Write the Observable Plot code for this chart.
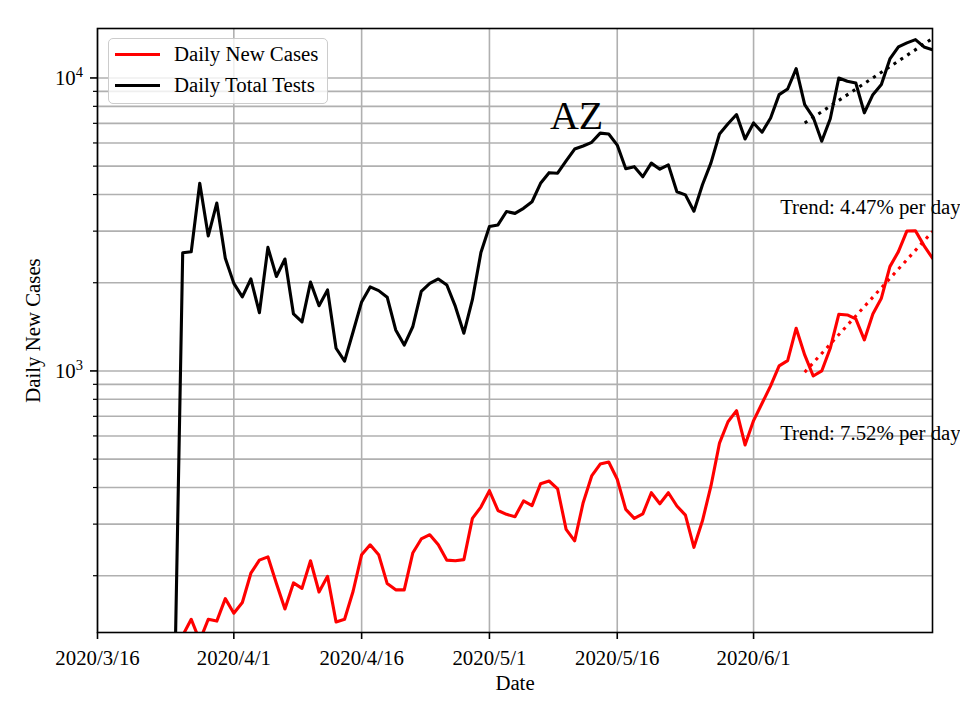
<!DOCTYPE html>
<html>
<head>
<meta charset="utf-8">
<script src="https://cdn.jsdelivr.net/npm/d3@7"></script>
<script src="https://cdn.jsdelivr.net/npm/@observablehq/plot@0.6"></script>
<style>
  body { margin: 0; background: #fff; }
  #wrap { position: relative; width: 960px; height: 720px; }
  #legend {
    position: absolute; left: 108px; top: 38px; width: 220px; height: 66px;
    box-sizing: border-box; border: 1.2px solid #cccccc; border-radius: 5px;
    background: rgba(255,255,255,0.8);
    font-family: 'Liberation Serif', 'Times New Roman', serif; font-size: 20.8px; color: #000;
  }
  .sw { position: absolute; left: 6px; width: 45px; height: 3px; }
  .lt { position: absolute; left: 65px; line-height: 1; white-space: nowrap; }
</style>
</head>
<body>
<div id="wrap">
  <div id="legend">
    <div class="sw" style="top:13.5px;background:#ff0000"></div>
    <div class="lt" style="top:4.5px">Daily New Cases</div>
    <div class="sw" style="top:44.5px;background:#000000"></div>
    <div class="lt" style="top:35.5px">Daily Total Tests</div>
  </div>
</div>
<script>
// ---- data ----
const xDomain = ["2020-03-16", "2020-06-22"];
const xTickDates = ["2020-03-16", "2020-04-01", "2020-04-16", "2020-05-01", "2020-05-16", "2020-06-01"];
const xTickLabels = ["2020/3/16", "2020/4/1", "2020/4/16", "2020/5/1", "2020/5/16", "2020/6/1"];
const yDomain = [128, 14750];
const yMajorTicks = [1000, 10000];
const yMinorTicks = [200, 300, 400, 500, 600, 700, 800, 900, 2000, 3000, 4000, 5000, 6000, 7000, 8000, 9000];

const testsFirstDay = "2020-03-25";
const testsValues = [
  70, 2530, 2550, 4370, 2890, 3740, 2425, 1990, 1790, 2060,
  1580, 2640, 2100, 2410, 1565, 1470, 2010, 1670, 1890, 1195,
  1080, 1360, 1720, 1935, 1880, 1785, 1380, 1225, 1415, 1870,
  1990, 2060, 1965, 1660, 1345, 1750, 2535, 3110, 3150, 3500,
  3450, 3590, 3780, 4370, 4750, 4730, 5210, 5720, 5860, 6030,
  6480, 6440, 5900, 4900, 4980, 4600, 5120, 4880, 5050, 4090,
  3990, 3510, 4320, 5130, 6440, 6980, 7500, 6190, 7020, 6530,
  7300, 8770, 9170, 10760, 8110, 7340, 6080, 7260, 10000, 9740,
  9610, 7600, 8770, 9490, 11610, 12760, 13170, 13510, 12760, 12490
];

const casesFirstDay = "2020-03-26";
const casesValues = [
  125, 142, 120, 142, 140, 167, 149, 162, 204, 226,
  232, 188, 154, 189, 181, 225, 176, 199, 139, 142,
  177, 236, 255, 236, 188, 179, 179, 239, 267, 276,
  255, 226, 225, 227, 314, 343, 390, 334, 324, 318,
  360, 347, 412, 421, 396, 288, 263, 355, 438, 481,
  489, 427, 337, 314, 325, 384, 352, 384, 346, 322,
  250, 308, 405, 567, 671, 732, 559, 677, 776, 889,
  1040, 1084, 1399, 1134, 961, 1000, 1195, 1561, 1553, 1505,
  1276, 1565, 1771, 2270, 2554, 3005, 3010, 2677, 2425
];

// trend lines (end points as drawn)
const trendDates = ["2020-06-07", "2020-06-22"];
const trendTestsValues = [7020, 13640];
const trendCasesValues = [990, 2990];

// annotations
const annotations = [
  {date: "2020-06-04", value: 3430, text: "Trend: 4.47% per day"},
  {date: "2020-06-04", value: 581, text: "Trend: 7.52% per day"}
];
const stateLabel = {date: "2020-05-11", value: 6690, text: "AZ"};

// ---- build tables ----
const parse = s => new Date(s + "T00:00:00Z");
const series = (first, vals) => vals.map((v, i) => ({date: d3.utcDay.offset(parse(first), i), value: v}));
const tests = series(testsFirstDay, testsValues);
const cases = series(casesFirstDay, casesValues);
const trendTests = trendDates.map((d, i) => ({date: parse(d), value: trendTestsValues[i]}));
const trendCases = trendDates.map((d, i) => ({date: parse(d), value: trendCasesValues[i]}));
const ann = annotations.map(a => ({...a, date: parse(a.date)}));
const st = [{...stateLabel, date: parse(stateLabel.date)}];
const xTicks = xTickDates.map(parse);

const font = "'Liberation Serif', 'Times New Roman', serif";

const svg = Plot.plot({
  width: 960,
  height: 720,
  marginLeft: 97,
  marginRight: 28,
  marginTop: 28,
  marginBottom: 88,
  style: {fontFamily: font, fontSize: "20.8px", background: "white", color: "black", overflow: "visible"},
  x: {type: "utc", domain: xDomain.map(parse)},
  y: {type: "log", domain: yDomain},
  marks: [
    Plot.gridX({ticks: xTicks, stroke: "#b0b0b0", strokeOpacity: 1, strokeWidth: 1.6}),
    Plot.gridY({ticks: [...yMajorTicks, ...yMinorTicks], stroke: "#b0b0b0", strokeOpacity: 1, strokeWidth: 1.6}),
    Plot.lineY(tests, {x: "date", y: "value", stroke: "#000000", strokeWidth: 3.1, clip: true}),
    Plot.lineY(cases, {x: "date", y: "value", stroke: "#ff0000", strokeWidth: 3.1, clip: true}),
    Plot.lineY(trendTests, {x: "date", y: "value", stroke: "#000000", strokeWidth: 3.1, strokeDasharray: "3.1,5.1", strokeLinecap: "butt", clip: true}),
    Plot.lineY(trendCases, {x: "date", y: "value", stroke: "#ff0000", strokeWidth: 3.1, strokeDasharray: "3.1,5.1", strokeLinecap: "butt", clip: true}),
    Plot.text(ann, {x: "date", y: "value", text: "text", textAnchor: "start", lineAnchor: "bottom", dx: 1, fontSize: 20.8, fill: "black"}),
    Plot.text(st, {x: "date", y: "value", text: "text", textAnchor: "middle", lineAnchor: "bottom", dx: 2, fontSize: 40, fill: "black"}),
    Plot.frame({stroke: "black", strokeWidth: 1.6}),
    Plot.axisX({ticks: xTicks, tickSize: 7, tickPadding: 11, strokeWidth: 1.6,
      tickFormat: d => xTickLabels[xTicks.findIndex(t => +t === +d)],
      label: "Date", labelAnchor: "center", labelArrow: "none", labelOffset: 57}),
    Plot.axisY({ticks: yMajorTicks, tickSize: 7, tickPadding: 7.5, strokeWidth: 1.6,
      tickFormat: d => "10^" + Math.round(Math.log10(d)),
      label: "Daily New Cases", labelAnchor: "center", labelArrow: "none", labelOffset: 72}),
    Plot.axisY({ticks: yMinorTicks, tickSize: 4, strokeWidth: 1.2, tickFormat: () => "", label: null})
  ]
});

// superscript exponents on y tick labels
svg.querySelectorAll('g[aria-label="y-axis tick label"] text').forEach(t => {
  const s = t.textContent;
  if (s.includes("^")) {
    const [base, exp] = s.split("^");
    t.textContent = base;
    const ts = document.createElementNS("http://www.w3.org/2000/svg", "tspan");
    ts.setAttribute("font-size", "14.5px");
    ts.setAttribute("dy", "-8");
    ts.textContent = exp;
    t.appendChild(ts);
  }
});

const wrap = document.getElementById("wrap");
wrap.insertBefore(svg, wrap.firstChild);
svg.style.position = "absolute";
svg.style.left = "0px";
svg.style.top = "0px";
</script>
</body>
</html>
